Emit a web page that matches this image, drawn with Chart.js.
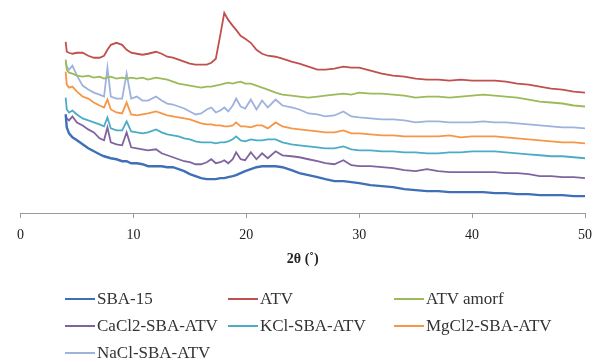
<!DOCTYPE html>
<html lang="en">

<head>
    <meta charset="UTF-8">
    <title>XRD</title>
    <script src="https://cdn.jsdelivr.net/npm/chart.js"></script>
    <style>
        body { margin: 0; background: #fff; }
        #wrap { position: relative; width: 602px; height: 362px; }
        #legend {
            position: absolute; left: 65px; top: 285px;
            display: grid; grid-template-columns: 163px 166px auto;
            font-family: "Liberation Serif", serif; font-size: 17px; line-height: 27px; color: #333;
        }
        #legend .item { white-space: nowrap; }
        #legend .line { display: inline-block; width: 30px; height: 2px; vertical-align: middle; margin-right: 2px; position: relative; top: -1px; }
    </style>
</head>

<body>
    <div id="wrap">
        <canvas id="xrd" width="602" height="362"></canvas>
        <div id="legend"></div>
    </div>

    <script>
        // 2θ positions (degrees)
        const twoTheta = [4, 4.1, 4.3, 4.6, 5, 5.5, 6, 6.5, 7, 7.4,
            7.7, 8, 8.5, 9, 9.4, 9.8, 10.3, 10.8, 11.3, 12,
            12.5, 13, 13.5, 14, 14.5, 15, 15.5, 16, 16.5, 16.9,
            17.3, 17.7, 18.05, 18.4, 18.8, 19.1, 19.5, 19.9, 20.4, 20.9,
            21.4, 21.9, 22.6, 23.2, 24, 24.7, 25.5, 26.3, 27, 27.8,
            28.6, 29.3, 30, 31, 32, 33, 34, 35, 36, 37,
            38, 39, 40, 41, 42, 43, 44, 45, 46, 47,
            48, 49, 50];

        // intensities (a.u., stacked as in the figure)
        const sba15 = [100, 87, 81, 77, 74, 70, 66, 63, 60, 58,
            57, 56, 55, 53, 53, 51, 51, 50, 48, 48,
            48, 47, 47, 45, 43, 40, 38, 36, 35, 35,
            35, 36, 36, 37, 38, 39, 41, 43, 45, 47,
            48, 48, 48, 47, 44, 41, 39, 37, 35, 33,
            33, 32, 31, 29, 28, 27, 25, 24, 23, 23,
            22, 22, 22, 22, 21, 21, 20, 20, 19, 19,
            19, 18, 18];
        const atv = [173, 163, 162, 161, 162, 162, 159, 157, 157, 159,
            165, 170, 172, 170, 165, 162, 161, 160, 161, 163,
            161, 158, 157, 155, 153, 151, 150, 150, 150, 152,
            156, 180, 202, 195, 189, 185, 179, 176, 172, 165,
            161, 159, 158, 156, 153, 151, 148, 145, 145, 146,
            148, 147, 147, 144, 141, 139, 138, 136, 135, 135,
            134, 135, 134, 134, 134, 133, 131, 130, 128, 126,
            125, 123, 122];
        const atvAmorf = [155, 145, 142, 141, 139, 138, 139, 137, 138, 136,
            137, 138, 136, 137, 136, 137, 136, 137, 135, 137,
            136, 135, 133, 131, 130, 129, 128, 127, 128, 128,
            129, 130, 131, 132, 131, 132, 133, 131, 131, 129,
            127, 125, 122, 120, 119, 118, 117, 118, 119, 120,
            121, 120, 122, 121, 121, 120, 119, 117, 118, 118,
            117, 118, 119, 120, 119, 118, 117, 115, 113, 112,
            111, 109, 108];
        const cacl2 = [100, 96, 94, 98, 92, 89, 85, 82, 76, 74,
            87, 72, 70, 69, 82, 67, 66, 65, 64, 65,
            61, 59, 57, 55, 53, 52, 50, 50, 52, 55,
            51, 52, 54, 51, 55, 62, 55, 54, 62, 55,
            61, 56, 63, 59, 58, 57, 55, 53, 51, 50,
            54, 49, 48, 48, 47, 46, 44, 43, 45, 43,
            42, 42, 42, 42, 42, 41, 41, 40, 38, 38,
            37, 37, 36];
        const kcl = [117, 105, 102, 104, 100, 96, 94, 92, 90, 88,
            97, 86, 84, 84, 93, 83, 82, 81, 82, 85,
            82, 80, 79, 78, 76, 75, 73, 72, 72, 72,
            71, 72, 72, 73, 75, 78, 74, 73, 75, 74,
            74, 75, 75, 72, 70, 69, 68, 67, 66, 66,
            68, 65, 64, 64, 63, 63, 62, 62, 61, 61,
            62, 62, 63, 63, 63, 62, 61, 60, 59, 58,
            58, 57, 56];
        const mgcl2 = [143, 130, 127, 128, 123, 118, 116, 112, 109, 107,
            115, 105, 102, 101, 112, 100, 99, 100, 101, 103,
            101, 99, 98, 97, 96, 95, 93, 91, 90, 90,
            89, 89, 88, 88, 89, 92, 88, 88, 87, 89,
            89, 86, 92, 88, 86, 85, 84, 83, 82, 82,
            84, 81, 81, 80, 79, 79, 78, 78, 78, 78,
            79, 77, 78, 78, 78, 77, 76, 75, 74, 73,
            72, 72, 71];
        const nacl = [153, 148, 145, 149, 139, 129, 125, 122, 120, 118,
            147, 118, 116, 116, 141, 116, 118, 114, 114, 118,
            114, 111, 110, 108, 106, 103, 100, 101, 105, 107,
            102, 104, 107, 103, 109, 116, 108, 106, 115, 105,
            114, 107, 115, 109, 107, 105, 101, 100, 98, 99,
            103, 98, 97, 96, 95, 95, 94, 92, 93, 93,
            92, 92, 92, 93, 92, 92, 91, 90, 89, 88,
            87, 87, 86];

        const seriesNames = ['SBA-15', 'ATV', 'ATV amorf', 'CaCl2-SBA-ATV', 'KCl-SBA-ATV', 'MgCl2-SBA-ATV', 'NaCl-SBA-ATV'];
        const seriesValues = [sba15, atv, atvAmorf, cacl2, kcl, mgcl2, nacl];
        const seriesColors = ['#3F6FB6', '#C0504D', '#9BBB59', '#8064A2', '#4BACC6', '#F79646', '#9DB2DE'];

        const datasets = seriesNames.map((name, i) => ({
            label: name,
            data: twoTheta.map((x, j) => ({ x: x, y: seriesValues[i][j] })),
            borderColor: seriesColors[i],
            borderWidth: i === 0 ? 2.4 : 1.8,
            pointRadius: 0,
            tension: 0
        }));

        const chart = new Chart(document.getElementById('xrd'), {
            type: 'line',
            data: { datasets: datasets },
            options: {
                responsive: false,
                animation: false,
                devicePixelRatio: 1,
                layout: { padding: { left: 20.5, right: 13, top: 0, bottom: 95.5 } },
                plugins: { legend: { display: false }, tooltip: { enabled: false } },
                scales: {
                    x: {
                        type: 'linear', min: 0, max: 50,
                        ticks: { stepSize: 10, padding: 10, color: '#222', font: { family: 'Liberation Serif', size: 14, lineHeight: 1 } },
                        grid: { drawOnChartArea: false, tickLength: 5, color: '#9a9a9a' },
                        border: { color: '#9a9a9a' },
                        title: {
                            display: true, text: '2θ (˚)', color: '#222',
                            font: { family: 'Liberation Serif', size: 14, weight: 'bold', lineHeight: 1 },
                            padding: { top: 0.5, bottom: 0 }
                        }
                    },
                    y: { display: false, min: 1, max: 215 }
                }
            }
        });

        // legend in three columns, like the original
        const legend = document.getElementById('legend');
        chart.data.datasets.forEach(ds => {
            const item = document.createElement('div');
            item.className = 'item';
            item.innerHTML = '<span class="line" style="background:' + ds.borderColor + '"></span>' + ds.label;
            legend.appendChild(item);
        });
    </script>
</body>

</html>
